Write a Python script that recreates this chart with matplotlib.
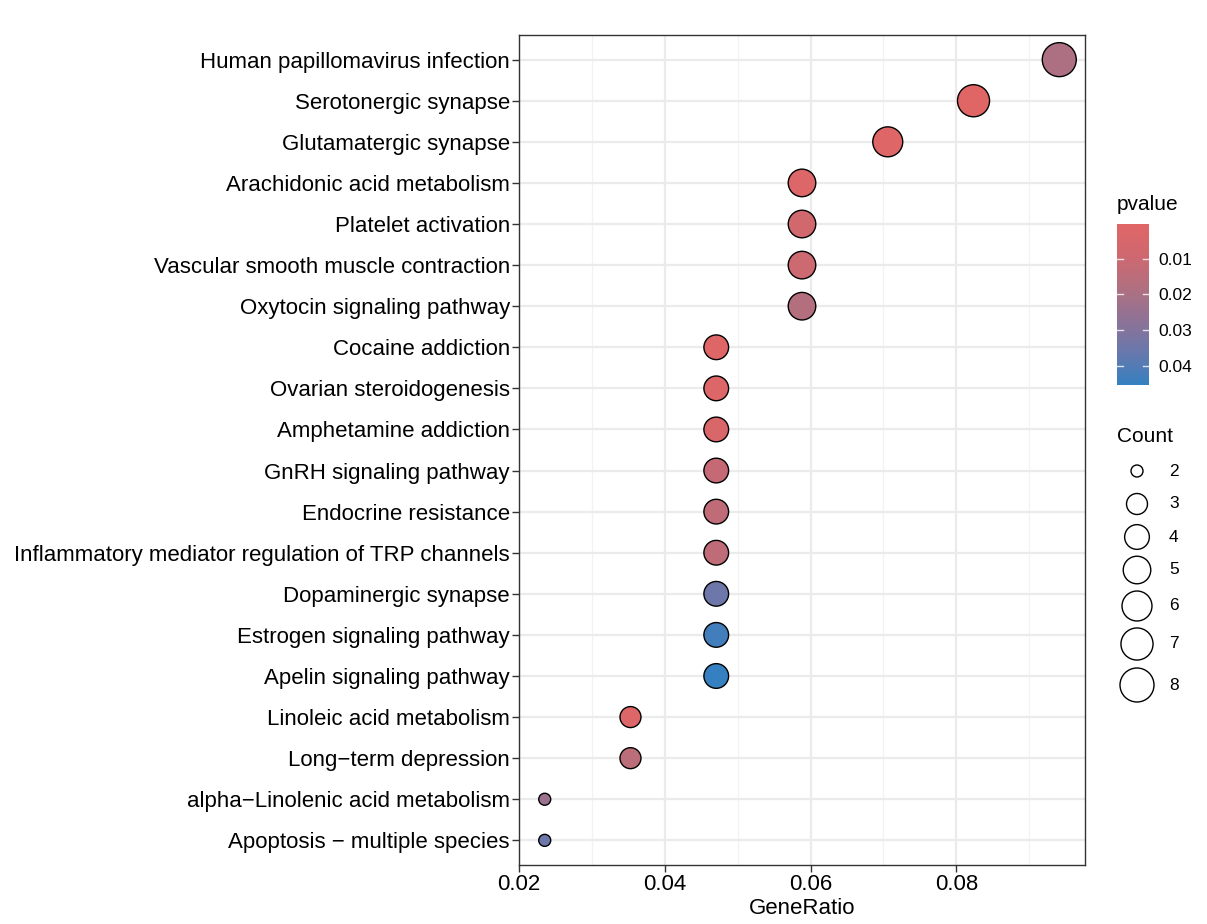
import numpy as np
import matplotlib
matplotlib.use("Agg")
import matplotlib.pyplot as plt
from matplotlib.colors import LinearSegmentedColormap, Normalize
from matplotlib.cm import ScalarMappable

plt.rcParams["font.family"] = ["Liberation Sans", "DejaVu Sans"]

# pathway terms, top to bottom
terms = [
    "Human papillomavirus infection",
    "Serotonergic synapse",
    "Glutamatergic synapse",
    "Arachidonic acid metabolism",
    "Platelet activation",
    "Vascular smooth muscle contraction",
    "Oxytocin signaling pathway",
    "Cocaine addiction",
    "Ovarian steroidogenesis",
    "Amphetamine addiction",
    "GnRH signaling pathway",
    "Endocrine resistance",
    "Inflammatory mediator regulation of TRP channels",
    "Dopaminergic synapse",
    "Estrogen signaling pathway",
    "Apelin signaling pathway",
    "Linoleic acid metabolism",
    "Long\u2212term depression",
    "alpha\u2212Linolenic acid metabolism",
    "Apoptosis \u2212 multiple species",
]
counts = [8, 7, 6, 5, 5, 5, 5, 4, 4, 4, 4, 4, 4, 4, 4, 4, 3, 3, 2, 2]
gene_ratio = [c / 85 for c in counts]
pvalues = [0.019, 0.0003, 0.0010, 0.0020, 0.0080, 0.0100, 0.0170,
           0.0015, 0.0025, 0.0040, 0.0120, 0.0140, 0.0140,
           0.0350, 0.0430, 0.0453, 0.0020, 0.0150, 0.0240, 0.0350]

legend_counts = [2, 3, 4, 5, 6, 7, 8]
cbar_ticks = [0.01, 0.02, 0.03, 0.04]

cmap = LinearSegmentedColormap.from_list(
    "pv", ["#E06666", "#CE6870", "#B07080", "#8E7296", "#6878AC", "#3580C0"])
norm = Normalize(vmin=min(pvalues), vmax=max(pvalues))


def marker_area(c):
    # diameter in px (dpi 100) -> points^2
    d = 12 + 22 * np.sqrt((np.asarray(c, float) - 2) / 6)
    return (d * 0.72) ** 2


fig = plt.figure(figsize=(12.07, 9.24), dpi=100)
ax = fig.add_axes([519 / 1207, 1 - 865 / 924, 566 / 1207, 830 / 924])

y = np.arange(len(terms))[::-1]
ax.scatter(gene_ratio, y, s=marker_area(counts), c=pvalues, cmap=cmap,
           norm=norm, edgecolors="black", linewidths=1.0, zorder=3)

ax.set_ylim(-0.6, len(terms) - 0.4)
span = max(gene_ratio) - min(gene_ratio)
ax.set_xlim(min(gene_ratio) - 0.05 * span, max(gene_ratio) + 0.05 * span)
ax.set_yticks(y)
ax.set_yticklabels(terms, fontsize=16, color="black")
ax.set_xticks([0.02, 0.04, 0.06, 0.08])
ax.set_xticklabels(["0.02", "0.04", "0.06", "0.08"], fontsize=16, color="black")
ax.set_xticks([0.03, 0.05, 0.07, 0.09], minor=True)
ax.grid(True, which="major", color="#EBEBEB", linewidth=1.6, zorder=0)
ax.grid(True, which="minor", axis="x", color="#F2F2F2", linewidth=0.9, zorder=0)
ax.set_axisbelow(True)
ax.tick_params(which="major", length=5, width=1, color="#333333", pad=1.5)
ax.tick_params(which="minor", length=0)
for sp in ax.spines.values():
    sp.set_color("#333333")
    sp.set_linewidth(1)
ax.set_xlabel("GeneRatio", fontsize=16, labelpad=2)

# colorbar legend
cax = fig.add_axes([1117 / 1207, 1 - 385 / 924, 32 / 1207, 161 / 924])
cb = fig.colorbar(ScalarMappable(norm=norm, cmap=cmap), cax=cax)
cb.outline.set_visible(False)
cax.invert_yaxis()
cb.set_ticks(cbar_ticks)
cb.set_ticklabels([f"{t:.2f}" for t in cbar_ticks])
cax.tick_params(length=0, labelsize=12.5, pad=7)
for t in cbar_ticks:
    cax.axhline(t, xmin=0, xmax=0.2, color="white", lw=1, alpha=0.8)
    cax.axhline(t, xmin=0.8, xmax=1, color="white", lw=1, alpha=0.8)
fig.text(1117 / 1207, 1 - 205 / 924, "pvalue", fontsize=15, va="center", ha="left")

# size legend
fig.text(1117 / 1207, 1 - 436 / 924, "Count", fontsize=15, va="center", ha="left")
lax = fig.add_axes([1110 / 1207, 1 - 710 / 924, 90 / 1207, 260 / 924])
lax.set_xlim(0, 90)
lax.set_ylim(710, 450)
lax.axis("off")
ky = [471, 504, 537, 570, 606, 644, 685]
lax.scatter([27] * len(legend_counts), ky, s=marker_area(legend_counts),
            facecolors="none", edgecolors="black", linewidths=1.0)
for c, yy in zip(legend_counts, ky):
    lax.text(59, yy, str(c), fontsize=12.5, va="center", ha="left")

fig.savefig("out.png", dpi=100, facecolor="white")
